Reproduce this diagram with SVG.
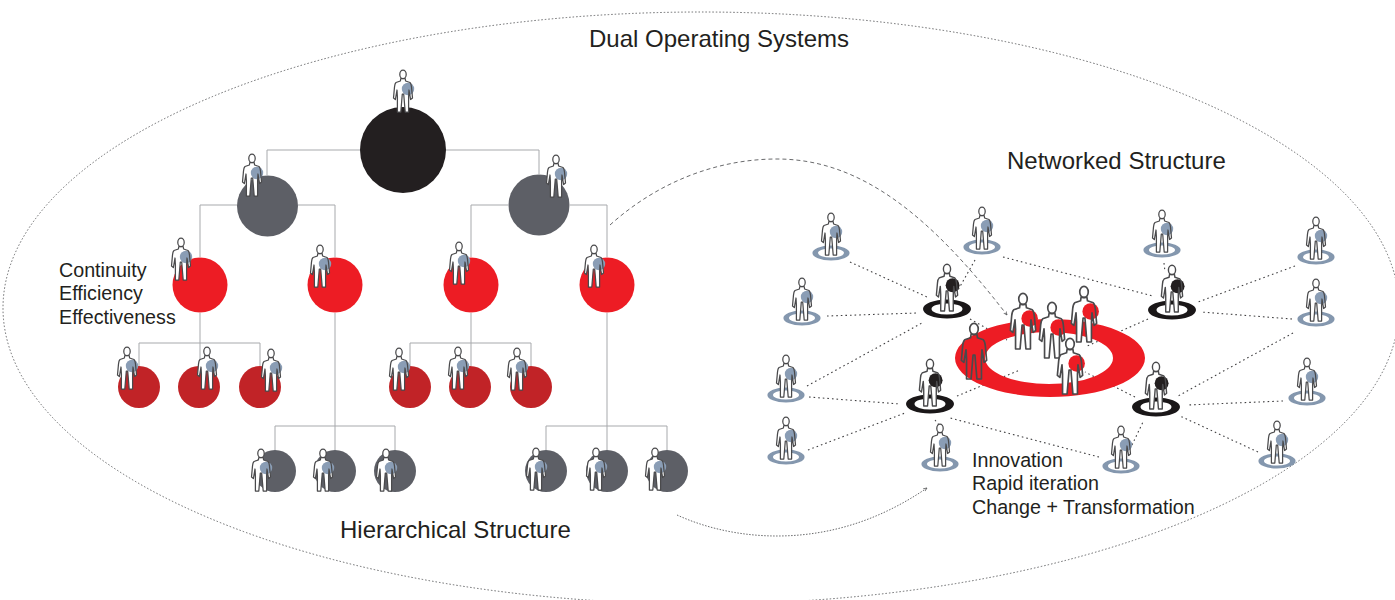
<svg xmlns="http://www.w3.org/2000/svg" width="1395" height="600" viewBox="0 0 1395 600">
<style>
text{font-family:"Liberation Sans",Arial,sans-serif;fill:#231f20}
.t{font-size:24px}.s{font-size:19.7px}
.h{fill:none;stroke:#a7a9ac;stroke-width:1}
.o{fill:none;stroke:#58595b;stroke-width:.9;stroke-dasharray:1.5 2}
.d{fill:none;stroke:#414042;stroke-width:1.1;stroke-dasharray:1.6 3}
.c{fill:none;stroke:#58595b;stroke-width:.9;stroke-dasharray:4 3}
.f{fill:none;stroke:#58595b;stroke-width:.9;stroke-dasharray:1.5 1.5}
.k{fill:#231f20}.g{fill:#5d5f66}.r{fill:#ed1c24}.m{fill:#c12327}
.rb{fill:#8497ae;fill-rule:evenodd}
.rk{fill:#1a1718;fill-rule:evenodd}
.bl{color:#8a9db5}.bk{color:#231f20}.rd{color:#ed1c24}
.pl{fill:none;stroke:#4a4a4c;stroke-width:1.25;stroke-linejoin:round}
</style>
<defs>
<marker id="a" markerWidth="5" markerHeight="5" refX="4" refY="2.5" orient="auto"><path d="M0,.8L4,2.5L0,4.2" fill="none" stroke="#58595b" stroke-width=".8"/></marker>
<path id="b" d="M-2.2,-33.5 L-2.6,-31 L-7,-29.5 Q-8.2,-28.5 -8.5,-25 L-9.5,-14 L-7.6,-12.5 L-6,-22 L-5.6,-15 L-5.6,0 L-2.2,0 L-.7,-18 L.7,-18 L2.2,0 L5.6,0 L5.6,-15 L6,-22 L7.6,-12.5 L9.5,-14 L8.5,-25 Q8.2,-28.5 7,-29.5 L2.6,-31 L2.2,-33.5 Z"/>
<g id="p">
<use href="#b" fill="#fff"/>
<ellipse cx="0" cy="-37.6" rx="3.2" ry="4.2" fill="#fff"/>
<circle cx="5" cy="-23" r="6.2" fill="currentColor"/>
<use href="#b" class="pl"/>
<ellipse cx="0" cy="-37.6" rx="3.2" ry="4.2" class="pl"/>
</g>
<g id="q">
<use href="#b" class="pl"/>
<ellipse cx="0" cy="-37.6" rx="3.2" ry="4.2" class="pl"/>
</g>
<path id="rb" class="rb" d="M-18.6,0a18.6,7.5 0 1,0 37.2,0a18.6,7.5 0 1,0 -37.2,0ZM-13,0a13,4.6 0 1,0 26,0a13,4.6 0 1,0 -26,0Z"/>
<path id="rk" class="rk" d="M-24,0a24,9.6 0 1,0 48,0a24,9.6 0 1,0 -48,0ZM-15.5,0a15.5,5.6 0 1,0 31,0a15.5,5.6 0 1,0 -31,0Z"/>
</defs>

<ellipse cx="701" cy="308" rx="698" ry="296" class="o"/>

<g id="connectors">
<path class="h" d="M360,150H267V175M446,150H539V174M237,205H200V257M298,205H335V257M508,205H471V257M570,205H607V257"/>
<path class="h" d="M200,313V366M139,366V343H260V366M335,313V450M275,450V426H395V450M471,313V366M410,366V343H531V366M607,313V450M546,450V426H667V450"/>
<path class="c" marker-end="url(#a)" d="M610,225C660,180 720,159 777,159C860,159 930,215 1007,315"/>
<path class="f" marker-end="url(#a)" d="M677,515C710,530 745,536 777,536C830,536 880,520 927,488"/>
<g>
<path class="d" d="M850,262L927,297M827,316L917,313M807,386L922,323M809,397L900,404M808,450L905,413M975,260L958,290M1003,257L1153,296M1164,263L1165,272M1295,266L1198,302M1292,319L1201,312M1293,333L1178,396M1283,401L1187,405M1258,452L1180,416M1132,445L1143,422M1099,457L950,418M935,420L939,425"/>
<path class="d" d="M970,319L1007,340M957,396L1020,370M1148,319L1085,347M1135,397L1085,372"/>
</g>
</g>

<g id="hierarchy-circles">
<circle cx="403" cy="150" r="43" class="k"/>
<circle cx="267.500" cy="206" r="30.500" class="g"/><circle cx="539" cy="205" r="30.500" class="g"/>
<circle cx="200" cy="285" r="27.500" class="r"/><circle cx="335" cy="285" r="27.500" class="r"/><circle cx="471" cy="285" r="27.500" class="r"/><circle cx="607" cy="285" r="27.500" class="r"/>
<circle cx="139" cy="387" r="21" class="m"/><circle cx="199" cy="387" r="21" class="m"/><circle cx="260" cy="387" r="21" class="m"/><circle cx="410" cy="387" r="21" class="m"/><circle cx="470" cy="387" r="21" class="m"/><circle cx="531" cy="387" r="21" class="m"/>
<circle cx="275" cy="471" r="21" class="g"/><circle cx="335" cy="471" r="21" class="g"/><circle cx="395" cy="471" r="21" class="g"/><circle cx="546" cy="471" r="21" class="g"/><circle cx="607" cy="471" r="21" class="g"/><circle cx="667" cy="471" r="21" class="g"/>
</g>
<g id="hierarchy-people" class="bl">
<use href="#p" x="403" y="112"/><use href="#p" x="252" y="196"/><use href="#p" x="556" y="197"/>
<use href="#p" x="181" y="280"/><use href="#p" x="320" y="287"/><use href="#p" x="459" y="284"/><use href="#p" x="594" y="287"/>
<use href="#p" x="127" y="389"/><use href="#p" x="207" y="389"/><use href="#p" x="271" y="391"/><use href="#p" x="399" y="390"/><use href="#p" x="458" y="389"/><use href="#p" x="517" y="390"/>
<use href="#p" x="261" y="491"/><use href="#p" x="323" y="491"/><use href="#p" x="386" y="491"/><use href="#p" x="536" y="490"/><use href="#p" x="596" y="490"/><use href="#p" x="655" y="490"/>
</g>

<path id="red-ring" class="r" fill-rule="evenodd" d="M955,358a95,39 0 1,0 190,0a95,39 0 1,0 -190,0ZM985,358a64,26 0 1,0 128,0a64,26 0 1,0 -128,0Z"/>

<g id="outer-nodes" class="bl">
<use href="#rb" x="831" y="253"/><use href="#p" x="831" y="255"/>
<use href="#rb" x="802" y="318"/><use href="#p" x="802" y="320"/>
<use href="#rb" x="982" y="247"/><use href="#p" x="982" y="249"/>
<use href="#rb" x="1162" y="250"/><use href="#p" x="1162" y="252"/>
<use href="#rb" x="1316" y="257"/><use href="#p" x="1316" y="259"/>
<use href="#rb" x="1316" y="319"/><use href="#p" x="1316" y="321"/>
<use href="#rb" x="1307" y="398"/><use href="#p" x="1307" y="400"/>
<use href="#rb" x="1277" y="461"/><use href="#p" x="1277" y="463"/>
<use href="#rb" x="1121" y="466"/><use href="#p" x="1121" y="468"/>
<use href="#rb" x="940" y="464"/><use href="#p" x="940" y="466"/>
<use href="#rb" x="786" y="457"/><use href="#p" x="786" y="459"/>
<use href="#rb" x="786" y="395"/><use href="#p" x="786" y="397"/>
</g>
<g id="hub-nodes" class="bk">
<use href="#rk" x="947" y="309"/><use href="#p" transform="translate(947,311) scale(1.12)"/>
<use href="#rk" x="1172" y="310"/><use href="#p" transform="translate(1172,312) scale(1.12)"/>
<use href="#rk" x="930" y="404"/><use href="#p" transform="translate(930,406) scale(1.12)"/>
<use href="#rk" x="1156" y="407"/><use href="#p" transform="translate(1156,409) scale(1.12)"/>
</g>
<g id="core-nodes" class="rd">
<use href="#q" transform="translate(974,379) scale(1.33)"/>
<use href="#p" transform="translate(1023,349) scale(1.33)"/>
<use href="#p" transform="translate(1052,358) scale(1.33)"/>
<use href="#p" transform="translate(1084,342) scale(1.33)"/>
<use href="#p" transform="translate(1070,394) scale(1.33)"/>
</g>

<g id="labels">
<text class="t" x="589" y="47">Dual Operating Systems</text>
<text class="t" x="1007" y="169">Networked Structure</text>
<text class="t" x="340" y="538">Hierarchical Structure</text>
<text class="s" x="59" y="277">Continuity</text>
<text class="s" x="59" y="300">Efficiency</text>
<text class="s" x="59" y="324">Effectiveness</text>
<text class="s" x="972" y="467">Innovation</text>
<text class="s" x="972" y="490">Rapid iteration</text>
<text class="s" x="972" y="514">Change + Transformation</text>
</g>
</svg>
